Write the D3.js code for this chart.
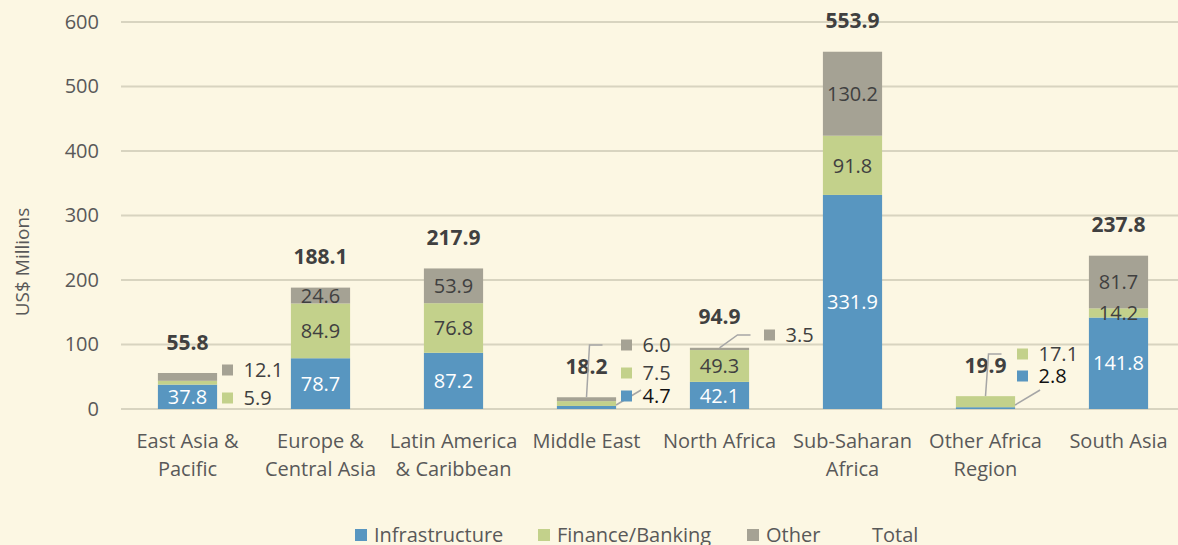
<!DOCTYPE html>
<html><head><meta charset="utf-8">
<script src="https://cdn.jsdelivr.net/npm/d3@7"></script>
<style>
html,body{margin:0;padding:0;background:#fcf7e3;}
svg{display:block;font-family:"Open Sans",sans-serif;}
</style></head>
<body><svg id="c" width="1178" height="545"></svg>
<script>
const categories = [["East Asia &","Pacific"],["Europe &","Central Asia"],["Latin America","& Caribbean"],["Middle East"],["North Africa"],["Sub-Saharan","Africa"],["Other Africa","Region"],["South Asia"]];
const infrastructure = [37.8, 78.7, 87.2, 4.7, 42.1, 331.9, 2.8, 141.8];
const finance = [5.9, 84.9, 76.8, 7.5, 49.3, 91.8, 17.1, 14.2];
const other = [12.1, 24.6, 53.9, 6.0, 3.5, 130.2, 0, 81.7];
const totals = [55.8, 188.1, 217.9, 18.2, 94.9, 553.9, 19.9, 237.8];
const yTicks = [0, 100, 200, 300, 400, 500, 600];
const seriesNames = ["Infrastructure", "Finance/Banking", "Other", "Total"];

const FS = 20;
const colors = {Infrastructure:"#5896c0", "Finance/Banking":"#c3d18b", Other:"#a5a294"};
const svg = d3.select("#c");
const x = d3.scaleBand().domain(d3.range(categories.length)).range([121,1185]).paddingInner(0.555).paddingOuter(0.2775);
const y = d3.scaleLinear().domain([0,600]).range([409,22]);

// gridlines
svg.append("g").selectAll("line").data(yTicks).join("line")
  .attr("x1",121).attr("x2",1178).attr("y1",d=>y(d)).attr("y2",d=>y(d))
  .attr("stroke","#d8d4c0").attr("stroke-width",2);
// y axis labels
const yAxis = d3.axisLeft(y).tickValues(yTicks).tickSize(0).tickPadding(0);
const ga = svg.append("g").attr("transform","translate(99,0)").call(yAxis);
ga.select(".domain").remove();
ga.selectAll("text").attr("font-size",FS).attr("fill","#595959").attr("font-family","Open Sans");

svg.append("text").attr("transform","translate(22,262) rotate(-90)").attr("text-anchor","middle")
  .attr("dy","0.36em").attr("font-size",19).attr("fill","#595959").text("US$ Millions");

// callouts: [category index, series, dx of square from bar center, y px, leader]
const series = {Infrastructure:infrastructure, "Finance/Banking":finance, Other:other};
const callouts = [
  [0,"Other",40,370,null],[0,"Finance/Banking",40,398,null],
  [3,"Other",40,345,"top"],[3,"Finance/Banking",40,373,null],[3,"Infrastructure",40,396,"diag"],
  [4,"Other",50,335,"top"],
  [6,"Finance/Banking",37,354,"top"],[6,"Infrastructure",37,376,"diag"]
];
const hasCallout = (i,key)=>callouts.some(c=>c[0]===i && c[1]===key);

// stacking
const rows = categories.map((c,i)=>({i, Infrastructure:infrastructure[i], "Finance/Banking":finance[i], Other:other[i]}));
const stack = d3.stack().keys(["Infrastructure","Finance/Banking","Other"])(rows);
const g = svg.append("g");
stack.forEach(s=>{
  g.selectAll(null).data(s).join("rect")
   .attr("x",d=>x(d.data.i)).attr("width",x.bandwidth())
   .attr("y",d=>y(d[1])).attr("height",d=>Math.max(0,y(d[0])-y(d[1])))
   .attr("fill",colors[s.key]);
});
// inside labels
stack.forEach(s=>{
  g.selectAll(null).data(s.filter(d=>(d[1]-d[0])>0 && !hasCallout(d.data.i,s.key))).join("text")
   .attr("x",d=>x(d.data.i)+x.bandwidth()/2).attr("y",d=>(y(d[0])+y(d[1]))/2)
   .attr("dy","0.36em").attr("text-anchor","middle").attr("font-size",FS)
   .attr("fill",s.key==="Infrastructure"?"#ffffff":"#404040")
   .text(d=>(d[1]-d[0]).toFixed(1));
});
// totals
g.selectAll(null).data(totals).join("text")
  .attr("x",(d,i)=>x(i)+x.bandwidth()/2).attr("y",d=>y(d)-31).attr("dy","0.36em")
  .attr("text-anchor","middle").attr("font-size",21).attr("font-weight","bold").attr("fill","#404040")
  .text(d=>d.toFixed(1));

callouts.forEach(([i,key,dx,py,leader])=>{
  const cx = x(i)+x.bandwidth()/2, v = series[key][i];
  if(leader==="top"){
    const top = y(totals[i]);
    const ex = i===4?cx+18:cx+3;
    svg.append("polyline").attr("points",`${cx},${top} ${ex},${py} ${ex+13},${py}`)
      .attr("fill","none").attr("stroke","#a6a6a6").attr("stroke-width",1.5);
  } else if(leader==="diag"){
    const bx = x(i)+x.bandwidth();
    svg.append("line").attr("x1",bx).attr("y1",y(0)-4).attr("x2",bx+25).attr("y2",y(0)-19)
      .attr("stroke","#a6a6a6").attr("stroke-width",1.5);
  }
  svg.append("rect").attr("x",cx+dx-5.5).attr("y",py-5.5).attr("width",11).attr("height",11).attr("fill",colors[key]);
  svg.append("text").attr("x",cx+dx+16).attr("y",py).attr("dy","0.36em").attr("font-size",FS)
    .attr("fill",key==="Infrastructure"?"#111111":"#404040").text(v.toFixed(1));
});

// category labels
const cl = svg.append("g");
categories.forEach((lines,i)=>{
  lines.forEach((t,j)=>{
    cl.append("text").attr("x",x(i)+x.bandwidth()/2).attr("y",441+j*28).attr("dy","0.36em")
      .attr("text-anchor","middle").attr("font-size",FS).attr("fill","#595959").text(t);
  });
});

// legend
const legendX = [355, 538, 747, 872];
seriesNames.forEach((n,k)=>{
  if(colors[n]) svg.append("rect").attr("x",legendX[k]).attr("y",529).attr("width",12).attr("height",12).attr("fill",colors[n]);
  svg.append("text").attr("x",colors[n]?legendX[k]+19:legendX[k]).attr("y",535).attr("dy","0.36em")
    .attr("font-size",FS).attr("fill","#595959").text(n);
});
</script></body></html>
